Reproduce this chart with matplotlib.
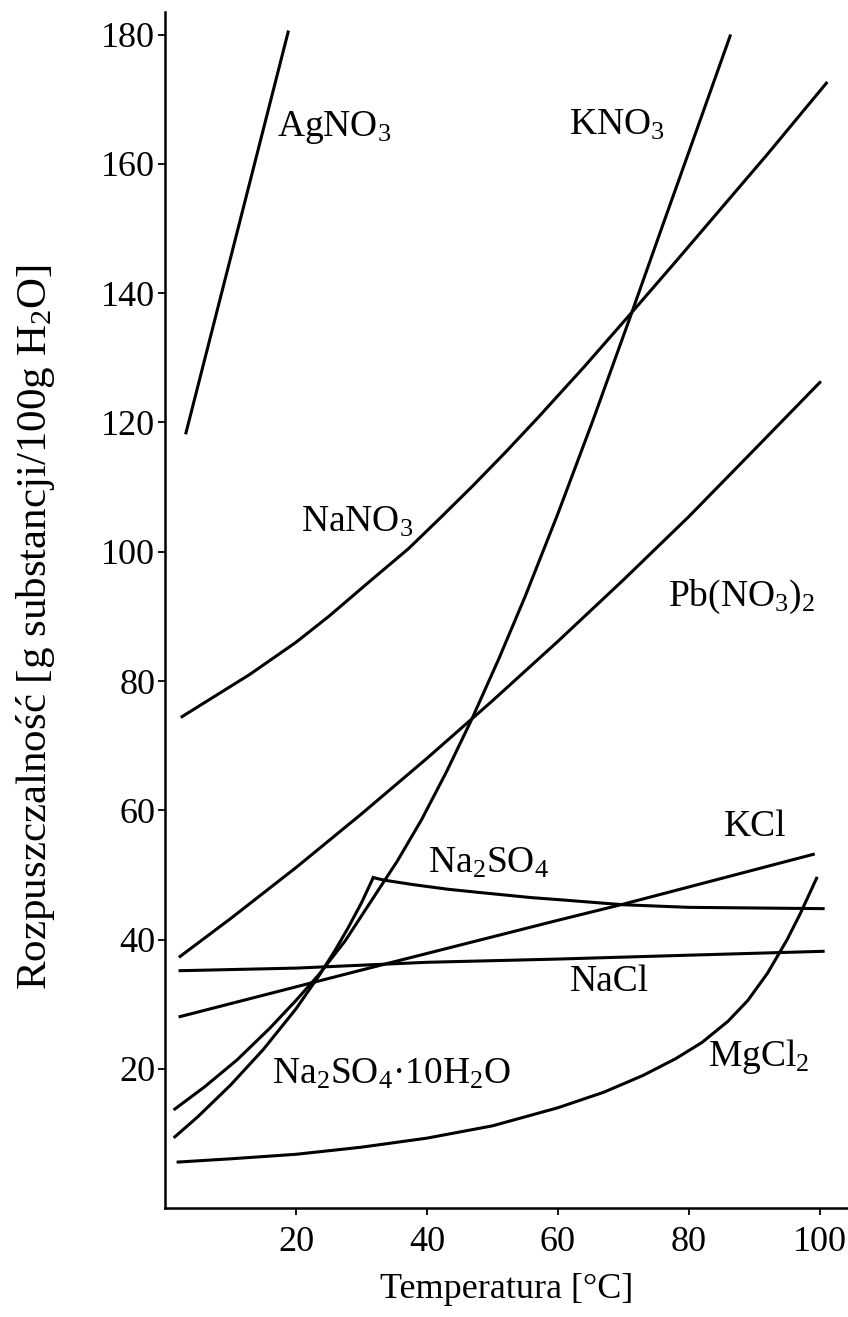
import matplotlib.pyplot as plt

# (temperatura [°C], rozpuszczalność [g/100g H2O])
agno3_t = [3.2, 18.8]
agno3_s = [118.4, 180.4]

kno3_t = [1.5, 6, 11, 16, 20, 23.5, 27.5, 31.5, 35.5, 39.2, 43, 46.8,
          51, 55, 60, 65.3, 71, 76, 81, 86.3]
kno3_s = [13.8, 17.2, 21.4, 26.3, 30.6, 34.6, 39.8, 46.0, 52.2, 58.6,
          66.0, 74.0, 83.5, 93.1, 105.9, 120.2, 136.2, 150.5, 164.7, 179.8]

nano3_t = [2.6, 12.9, 20, 25, 31, 37.2, 42, 47, 52, 57, 64, 71, 78, 85,
           92, 101]
nano3_s = [74.5, 81, 86.0, 90.0, 95.2, 100.5, 105.2, 110.2, 115.4, 120.8,
           128.6, 136.7, 144.9, 153.2, 161.5, 172.5]

pbno3_t = [2.3, 10, 20, 30, 40, 50, 60, 70, 80, 90, 100]
pbno3_s = [37.4, 43.25, 51.15, 59.45, 68.05, 76.95, 86.15, 95.65, 105.45,
           115.8, 126.2]

kcl_t = [2.3, 30, 60, 70, 99]
kcl_s = [28.1, 35.3, 43, 45.5, 53.2]

nacl_t = [2.3, 20, 40, 60, 80, 100.5]
nacl_s = [35.2, 35.6, 36.5, 37, 37.6, 38.2]

na2so4_t = [31.8, 33.5, 38, 43.2, 48, 52, 56, 60, 65, 70, 75, 80, 90, 100.5]
na2so4_s = [49.6, 49.2, 48.5, 47.8, 47.3, 46.9, 46.5, 46.2, 45.8, 45.4,
            45.2, 45.0, 44.9, 44.8]

hydrat_t = [1.5, 5, 10, 15, 20, 23.5, 26, 28, 30, 31.8]
hydrat_s = [9.5, 12.6, 17.5, 23, 29.3, 34.4, 38.4, 41.9, 45.7, 49.6]

mgcl2_t = [2, 10, 20, 30, 40, 50, 60, 67, 73, 78, 82, 86, 89, 92, 95, 97,
           99.5]
mgcl2_s = [5.6, 6.1, 6.8, 7.9, 9.3, 11.2, 14.0, 16.4, 19.0, 21.6, 24.1,
           27.4, 30.6, 34.8, 40.0, 44.0, 49.5]

x_ticks = [20, 40, 60, 80, 100]
y_ticks = [20, 40, 60, 80, 100, 120, 140, 160, 180]

# Etykiety substancji: (tekst, t, s)
labels = [
    ('AgNO$_3$', 17.1, 165.7),
    ('KNO$_3$', 61.7, 166),
    ('NaNO$_3$', 20.8, 104.5),
    ('Pb(NO$_3$)$_2$', 76.8, 93),
    ('KCl', 85.3, 57.5),
    ('Na$_2$SO$_4$', 40.2, 51.8),
    ('NaCl', 61.8, 33.5),
    ('Na$_2$SO$_4$·10H$_2$O', 16.4, 19.2),
    ('MgCl$_2$', 82.9, 22),
]

plt.rcParams['font.family'] = ['Liberation Serif', 'DejaVu Serif']
plt.rcParams['mathtext.fontset'] = 'custom'
plt.rcParams['mathtext.rm'] = 'Liberation Serif'
plt.rcParams['mathtext.it'] = 'Liberation Serif'

fig = plt.figure(figsize=(8.48, 13.17), dpi=100)
ax = fig.add_axes([0.1946, 0.0828, 0.8054, 0.9081])

series = [
    (agno3_t, agno3_s), (kno3_t, kno3_s), (nano3_t, nano3_s),
    (pbno3_t, pbno3_s), (kcl_t, kcl_s), (nacl_t, nacl_s),
    (na2so4_t, na2so4_s), (hydrat_t, hydrat_s), (mgcl2_t, mgcl2_s),
]
for t, s in series:
    ax.plot(t, s, color='black', lw=2.2, solid_joinstyle='round')

for text, t, s in labels:
    ax.text(t, s, text, fontsize=27, va='center', ha='left')

ax.set_xlim(0, 104.3)
ax.set_ylim(-1.5, 183.5)
ax.set_xticks(x_ticks)
ax.set_yticks(y_ticks)
ax.tick_params(direction='out', length=5, width=1.3, labelsize=26)
ax.tick_params(axis='y', pad=2)
ax.tick_params(axis='x', pad=8)
ax.spines['top'].set_visible(False)
ax.spines['right'].set_visible(False)
ax.spines['left'].set_linewidth(1.8)
ax.spines['bottom'].set_linewidth(1.8)

ax.set_xlabel('Temperatura [°C]', fontsize=26, labelpad=10)
ax.set_ylabel('Rozpuszczalność [g substancji/100g H$_2$O]', fontsize=31)
ax.yaxis.set_label_coords(-0.158, 0.486)

plt.savefig('out.png', dpi=100)
